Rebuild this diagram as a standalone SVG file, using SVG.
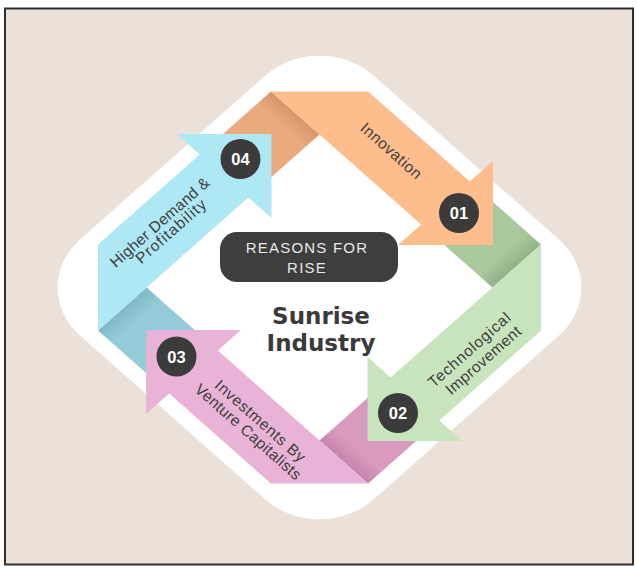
<svg xmlns="http://www.w3.org/2000/svg" width="637" height="568" viewBox="0 0 637 568">
<defs>
<style>
.lbl{font-family:"Liberation Sans",Arial,sans-serif;font-size:15.5px;fill:#3d3d3d;text-anchor:middle}
.num{font-family:"Liberation Sans",Arial,sans-serif;font-size:16.5px;font-weight:bold;fill:#ffffff;text-anchor:middle}
.badge{fill:#3b3b3b}
.title{font-family:"DejaVu Sans","Liberation Sans",sans-serif;font-size:23px;font-weight:bold;fill:#3a3a3a;text-anchor:middle}
.box{font-family:"Liberation Sans",Arial,sans-serif;font-size:15px;fill:#e8e8e8;text-anchor:middle;letter-spacing:1.2px}
</style>
<linearGradient id="gG" gradientUnits="userSpaceOnUse" x1="13.5" y1="13.5" x2="76.5" y2="76.5">
<stop offset="0" stop-color="#A9C89D"/><stop offset="0.8" stop-color="#A9C89D"/><stop offset="1" stop-color="#92B186"/>
</linearGradient>
<linearGradient id="gP" gradientUnits="userSpaceOnUse" x1="-13.5" y1="13.5" x2="-76.5" y2="76.5">
<stop offset="0" stop-color="#D99ABF"/><stop offset="0.8" stop-color="#D99ABF"/><stop offset="1" stop-color="#C585AC"/>
</linearGradient>
<linearGradient id="gT" gradientUnits="userSpaceOnUse" x1="-13.5" y1="-13.5" x2="-76.5" y2="-76.5">
<stop offset="0" stop-color="#93CCD8"/><stop offset="0.8" stop-color="#93CCD8"/><stop offset="1" stop-color="#7FB9C5"/>
</linearGradient>
<linearGradient id="gO" gradientUnits="userSpaceOnUse" x1="13.5" y1="-13.5" x2="76.5" y2="-76.5">
<stop offset="0" stop-color="#EAAA7D"/><stop offset="0.8" stop-color="#EAAA7D"/><stop offset="1" stop-color="#D6966A"/>
</linearGradient>
</defs>

<rect x="0" y="0" width="637" height="568" fill="#ffffff"/>
<rect x="5" y="8.5" width="628" height="556" fill="#ECE1D8" stroke="#2e2e2e" stroke-width="2"/>

<g id="backdrop" transform="translate(319.5 287.5) scale(1.13 1)">
<rect x="-183.8" y="-183.8" width="367.6" height="367.6" rx="68" fill="#ffffff" transform="rotate(45)"/>
</g>

<g id="connectors" transform="translate(319.5 287.5) scale(1.13 1)">
<polygon points="90,-63 133,-106 196,-43 153,0" fill="url(#gG)"/>
<polygon points="63,90 106,133 43,196 0,153" fill="url(#gP)"/>
<polygon points="-90,63 -133,106 -196,43 -153,0" fill="url(#gT)"/>
<polygon points="-63,-90 -106,-133 -43,-196 0,-153" fill="url(#gO)"/>
</g>

<g id="node-01">
<polygon transform="translate(319.5 287.5) scale(1.13 1)" points="-43,-196 43,-196 133,-106 153.5,-126.5 153.5,-42.5 69.5,-42.5 90,-63" fill="#FDBD8D"/>
<text class="lbl" transform="translate(391 151) rotate(41.5)" y="5" textLength="76" lengthAdjust="spacing">Innovation</text>
<circle class="badge" cx="459" cy="213" r="20"/>
<text class="num" x="459" y="219">01</text>
</g>

<g id="node-02">
<polygon transform="translate(319.5 287.5) scale(1.13 1)" points="196,-43 196,43 106,133 126.5,153.5 42.5,153.5 42.5,69.5 63,90" fill="#C8E4BD"/>
<text class="lbl" transform="translate(469.5 350) rotate(-41.5)" y="5" textLength="104" lengthAdjust="spacing">Technological</text>
<text class="lbl" transform="translate(483.5 360.5) rotate(-41.5)" y="5" textLength="95" lengthAdjust="spacing">Improvement</text>
<circle class="badge" cx="398" cy="413" r="20"/>
<text class="num" x="398" y="419">02</text>
</g>

<g id="node-03">
<polygon transform="translate(319.5 287.5) scale(1.13 1)" points="43,196 -43,196 -133,106 -153.5,126.5 -153.5,42.5 -69.5,42.5 -90,63" fill="#E8B3D6"/>
<text class="lbl" transform="translate(260 421) rotate(41.5)" y="5" textLength="115" lengthAdjust="spacing">Investments By</text>
<text class="lbl" transform="translate(248 432) rotate(41.5)" y="5" textLength="136" lengthAdjust="spacing">Venture Capitalists</text>
<circle class="badge" cx="176.5" cy="356.5" r="20"/>
<text class="num" x="176.5" y="362.5">03</text>
</g>

<g id="node-04">
<polygon transform="translate(319.5 287.5) scale(1.13 1)" points="-196,43 -196,-43 -106,-133 -126.5,-153.5 -42.5,-153.5 -42.5,-69.5 -63,-90" fill="#AEE8F5"/>
<text class="lbl" transform="translate(160 222.5) rotate(-41.5)" y="5" textLength="127" lengthAdjust="spacing">Higher Demand &amp;</text>
<text class="lbl" transform="translate(171 231.5) rotate(-41.5)" y="5" textLength="88" lengthAdjust="spacing">Profitability</text>
<circle class="badge" cx="240.5" cy="159" r="20"/>
<text class="num" x="240.5" y="165">04</text>
</g>

<g id="center">
<rect x="220" y="232" width="178" height="50" rx="17" fill="#3e3e3e"/>
<text class="box" x="307" y="252.5">REASONS FOR</text>
<text class="box" x="307" y="272.5">RISE</text>
<text class="title" x="321" y="323.5">Sunrise</text>
<text class="title" x="321" y="350.5">Industry</text>
</g>
</svg>
